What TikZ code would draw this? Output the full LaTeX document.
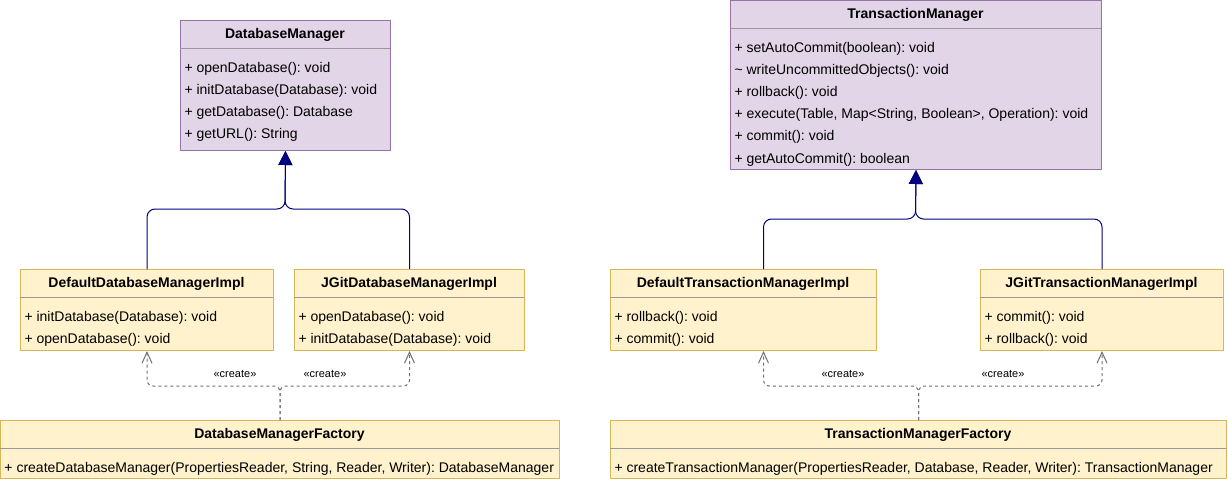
\documentclass[tikz,border=0pt]{standalone}
\usepackage{fontspec}
\setmainfont{Liberation Sans}
\usetikzlibrary{arrows.meta}
\definecolor{ifill}{HTML}{E1D5E7}
\definecolor{iline}{HTML}{9673A6}
\definecolor{cfill}{HTML}{FFF2CC}
\definecolor{cline}{HTML}{D6B656}
\definecolor{sepgray}{HTML}{999999}
\definecolor{navy}{HTML}{000080}
\definecolor{depgray}{HTML}{707070}
\frenchspacing
\begin{document}
\begin{tikzpicture}[x=1pt,y=-1pt,line join=round,line width=1pt,
	font=\fontsize{14}{16}\selectfont,
	iface/.style={draw=iline,fill=ifill,anchor=north west,inner sep=0pt},
	impl/.style={draw=cline,fill=cfill,anchor=north west,inner sep=0pt},
	head/.style={anchor=base,inner sep=0pt,font=\fontsize{14}{16}\selectfont\bfseries},
	meth/.style={anchor=base west,inner sep=0pt},
	sep/.style={draw=sepgray},
	gen/.style={draw=navy,rounded corners=8},
	dep/.style={draw=depgray,dash pattern=on 3pt off 3pt,rounded corners=6},
	stereo/.style={inner sep=0pt,font=\fontsize{11}{12}\selectfont}]
	\useasboundingbox (0,0) rectangle (1228,479);
	% DatabaseManager side
	\node[iface,minimum width=210,minimum height=130] (dbm) at (180,20) {};
	\node[head] (dbm-h) at (285,38) {DatabaseManager};
	\draw[sep] (180,48)--(390,48);
	\foreach \m [count=\i from 0] in {{+ openDatabase(): void},{+ initDatabase(Database): void},{+ getDatabase(): Database},{+ getURL(): String}}
	\node[meth] (dbm-\i) at (184,72+22*\i) {\m};
	\node[impl,minimum width=253,minimum height=81] (ddmi) at (20,269) {};
	\node[head] (ddmi-h) at (146.5,287) {DefaultDatabaseManagerImpl};
	\draw[sep] (20,297)--(273,297);
	\foreach \m [count=\i from 0] in {{+ initDatabase(Database): void},{+ openDatabase(): void}}
	\node[meth] (ddmi-\i) at (24,321+22*\i) {\m};
	\node[impl,minimum width=230,minimum height=81] (jdmi) at (294,269) {};
	\node[head] (jdmi-h) at (409,287) {JGitDatabaseManagerImpl};
	\draw[sep] (294,297)--(524,297);
	\foreach \m [count=\i from 0] in {{+ openDatabase(): void},{+ initDatabase(Database): void}}
	\node[meth] (jdmi-\i) at (298,321+22*\i) {\m};
	\node[impl,minimum width=559,minimum height=58] (dmf) at (0,420) {};
	\node[head] (dmf-h) at (279.5,438) {DatabaseManagerFactory};
	\draw[sep] (0,448)--(559,448);
	\node[meth] (dmf-0) at (4,472) {+ createDatabaseManager(PropertiesReader, String, Reader, Writer): DatabaseManager};
	\coordinate (dbmj) at (285,209);
	\draw[gen,-{Triangle[length=14pt,width=14pt]}] (ddmi.north)--(ddmi.north |- dbmj)--(dbmj)--(dbm.south);
	\draw[gen,-{Triangle[length=14pt,width=14pt]}] (jdmi.north)--(jdmi.north |- dbmj)--(dbmj)--(dbm.south);
	\coordinate (dmfj) at (dmf.north |- 0,386);
	\draw[dep,-{Straight Barb[length=11pt,width=10pt]}] (dmf.north)--(dmfj)--(ddmi.south |- dmfj)--(ddmi.south);
	\draw[dep,-{Straight Barb[length=11pt,width=10pt]}] (dmf.north)--(dmfj)--(jdmi.south |- dmfj)--(jdmi.south);
	\node[stereo] (dmc1) at (235,374) {«create»};
	\node[stereo] (dmc2) at (325,374) {«create»};
	% TransactionManager side
	\node[iface,minimum width=371,minimum height=169] (tm) at (730,0) {};
	\node[head] (tm-h) at (915.5,18) {TransactionManager};
	\draw[sep] (730,28)--(1101,28);
	\foreach \m [count=\i from 0] in {{+ setAutoCommit(boolean): void},{\textasciitilde{} writeUncommittedObjects(): void},{+ rollback(): void},{+ execute(Table, Map<String, Boolean>, Operation): void},{+ commit(): void},{+ getAutoCommit(): boolean}}
	\node[meth] (tm-\i) at (734,52+22.2*\i) {\m};
	\node[impl,minimum width=266,minimum height=81] (dtmi) at (610,269) {};
	\node[head] (dtmi-h) at (743,287) {DefaultTransactionManagerImpl};
	\draw[sep] (610,297)--(876,297);
	\foreach \m [count=\i from 0] in {{+ rollback(): void},{+ commit(): void}}
	\node[meth] (dtmi-\i) at (614,321+22*\i) {\m};
	\node[impl,minimum width=243,minimum height=81] (jtmi) at (980,269) {};
	\node[head] (jtmi-h) at (1101.5,287) {JGitTransactionManagerImpl};
	\draw[sep] (980,297)--(1223,297);
	\foreach \m [count=\i from 0] in {{+ commit(): void},{+ rollback(): void}}
	\node[meth] (jtmi-\i) at (984,321+22*\i) {\m};
	\node[impl,minimum width=616,minimum height=58] (tmf) at (610,420) {};
	\node[head] (tmf-h) at (918,438) {TransactionManagerFactory};
	\draw[sep] (610,448)--(1226,448);
	\node[meth] (tmf-0) at (614,472) {+ createTransactionManager(PropertiesReader, Database, Reader, Writer): TransactionManager};
	\coordinate (tmj) at (915.5,219);
	\coordinate (dtmiT) at ([xshift=20pt]dtmi.north);
	\coordinate (dtmiB) at ([xshift=20pt]dtmi.south);
	\draw[gen,-{Triangle[length=14pt,width=14pt]}] (dtmiT)--(dtmiT |- tmj)--(tmj)--(tm.south);
	\draw[gen,-{Triangle[length=14pt,width=14pt]}] (jtmi.north)--(jtmi.north |- tmj)--(tmj)--(tm.south);
	\coordinate (tmfj) at (tmf.north |- 0,386);
	\draw[dep,-{Straight Barb[length=11pt,width=10pt]}] (tmf.north)--(tmfj)--(dtmiB |- tmfj)--(dtmiB);
	\draw[dep,-{Straight Barb[length=11pt,width=10pt]}] (tmf.north)--(tmfj)--(jtmi.south |- tmfj)--(jtmi.south);
	\node[stereo] (tmc1) at (843,374) {«create»};
	\node[stereo] (tmc2) at (1003,374) {«create»};
\end{tikzpicture}
\end{document}
